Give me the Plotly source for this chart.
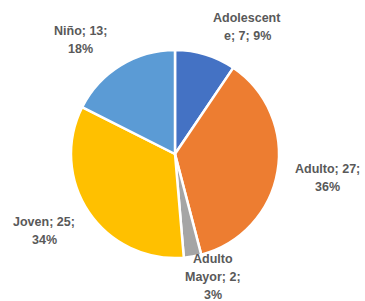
import plotly.graph_objects as go

categories = ["Adolescente", "Adulto", "Adulto Mayor", "Joven", "Niño"]
values = [7, 27, 2, 25, 13]
percents = [9, 36, 3, 34, 18]
colors = ["#4472C4", "#ED7D31", "#A5A5A5", "#FFC000", "#5B9BD5"]
# data labels "cat; val; pct%" as wrapped in the reference
wrap_lines = [
    ["Adolescent", "e; 7; 9%"],
    ["Adulto; 27;", "36%"],
    ["Adulto", "Mayor; 2;", "3%"],
    ["Joven; 25;", "34%"],
    ["Niño; 13;", "18%"],
]
label_pos = [(247, 27), (327, 178), (213, 277), (44, 231), (80, 40)]

W, H = 365, 301
cx, cy, r = 175, 154, 104
LINE = 18

fig = go.Figure(go.Pie(
    labels=categories, values=values, sort=False, direction="clockwise",
    rotation=0, marker=dict(colors=colors, line=dict(color="white", width=2.5)),
    textinfo="none", hoverinfo="label+value+percent",
    domain=dict(x=[(cx - r) / W, (cx + r) / W], y=[(H - cy - r) / H, (H - cy + r) / H]),
    showlegend=False,
))

for lines, (x, y) in zip(wrap_lines, label_pos):
    n = len(lines)
    for i, line in enumerate(lines):
        yy = y + (i - (n - 1) / 2) * LINE
        fig.add_annotation(
            x=x / W, y=1 - yy / H, xref="paper", yref="paper",
            text=line, showarrow=False,
            font=dict(family="Liberation Sans", size=12.5, color="#595959", weight="bold"),
            align="center", xanchor="center", yanchor="middle",
        )

fig.update_layout(
    width=W, height=H, margin=dict(l=0, r=0, t=0, b=0),
    paper_bgcolor="white", plot_bgcolor="white",
)
fig.write_html("out.html", config={"displayModeBar": False},
               post_script="document.body.style.margin='0';")
